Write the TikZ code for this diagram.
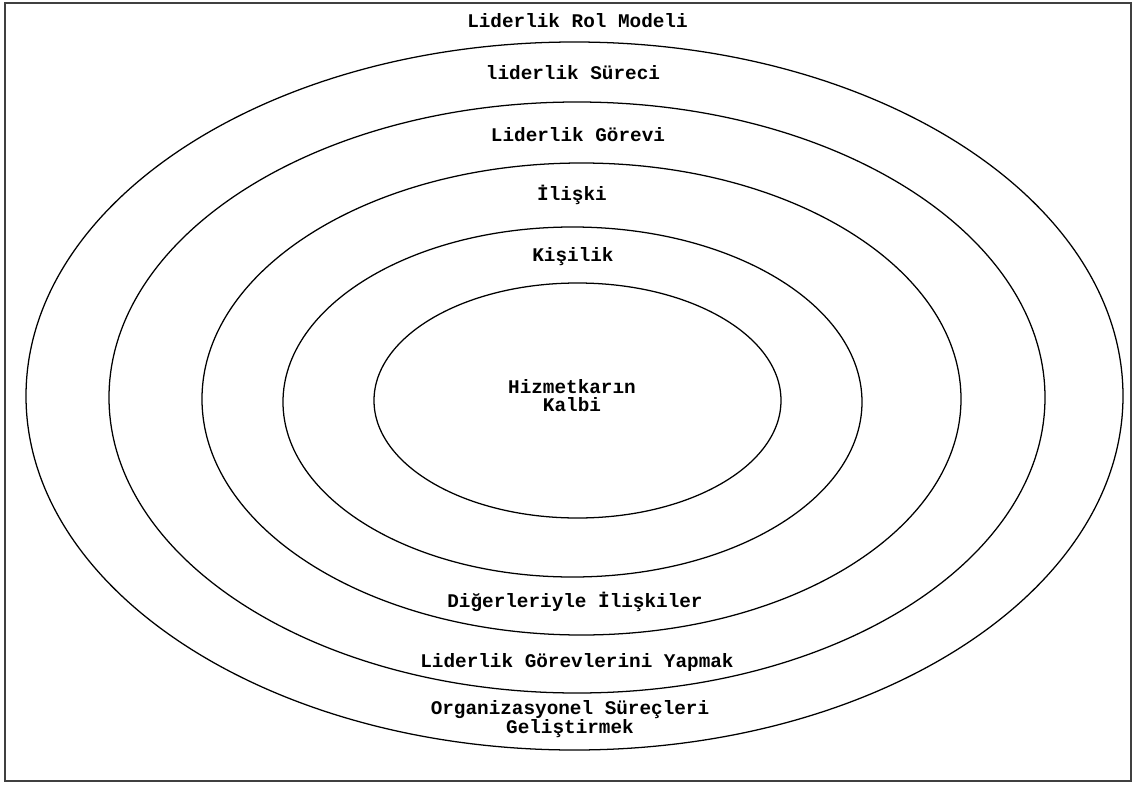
\documentclass[tikz,border=0pt]{standalone}
\usepackage{fontspec}
\newfontfamily\ringfont{Liberation Mono}
\usetikzlibrary{shapes.geometric}
\begin{document}
\begin{tikzpicture}[x=0.75pt,y=-0.75pt,
  ring/.style={ellipse,draw=black,line width=0.95pt,inner sep=0pt,outer sep=0pt},
  ringlabel/.style={font=\ringfont\bfseries\fontsize{14.5}{11}\selectfont,inner sep=0pt,align=center,text=black},
  frame/.style={draw=black!75,line width=1.1pt}]
  \useasboundingbox (0,0) rectangle (1133,785);
  \draw[frame] (5,3) rectangle (1131,781);

  % concentric rings, outermost first
  \node[ring,minimum width=822.75pt,minimum height=531pt] (r1) at (574.5,396) {};
  \node[ring,minimum width=702pt,minimum height=443.25pt] (r2) at (577,397.5) {};
  \node[ring,minimum width=569.25pt,minimum height=354pt] (r3) at (581.5,399) {};
  \node[ring,minimum width=434.25pt,minimum height=262.5pt] (r4) at (572.5,402) {};
  \node[ring,minimum width=305.25pt,minimum height=176.25pt] (r5) at (577.5,400.5) {};

  % labels above the centre
  \node[ringlabel] (t1) at (577.5,21) {Liderlik Rol Modeli};
  \node[ringlabel] (t2) at (573,73) {liderlik Süreci};
  \node[ringlabel] (t3) at (578,135) {Liderlik Görevi};
  \node[ringlabel] (t4) at (572,195) {İlişki};
  \node[ringlabel] (t5) at (573,257) {Kişilik};
  \node[ringlabel,font=\ringfont\bfseries\fontsize{14.5}{13.5}\selectfont] (t6) at (572,396) {Hizmetkarın\\Kalbi};

  % labels below the centre
  \node[ringlabel] (b1) at (575,602) {Diğerleriyle İlişkiler};
  \node[ringlabel] (b2) at (577,662) {Liderlik Görevlerini Yapmak};
  \node[ringlabel,font=\ringfont\bfseries\fontsize{14.5}{13}\selectfont] (b3) at (570,719) {Organizasyonel Süreçleri\\Geliştirmek};
\end{tikzpicture}
\end{document}
